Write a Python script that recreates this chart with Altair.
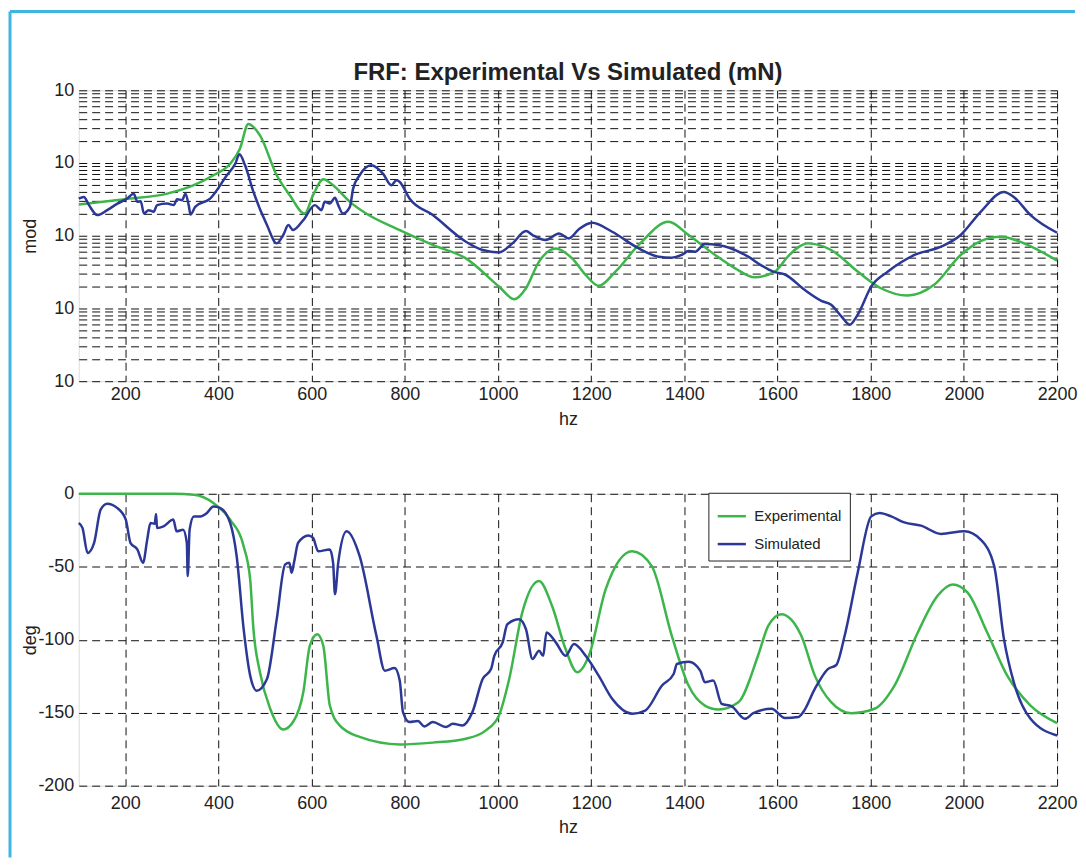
import altair as alt
import pandas as pd

# ---------- data ----------
series = ["Experimental", "Simulated"]
colors = ["#3cb54a", "#2b3896"]
chart_title = "FRF: Experimental Vs Simulated (mN)"

# magnitude (log10 of |FRF|)
exp_mag_hz = [100, 199, 290, 347, 389, 425, 446, 464, 489, 525, 553, 585, 603, 625, 646, 682, 717,
              789, 860, 931, 1002, 1035, 1060, 1088, 1124, 1159, 1188, 1216, 1252, 1302, 1366, 1409,
              1466, 1509, 1551, 1594, 1623, 1644, 1665, 1715, 1772, 1822, 1879, 1936, 1993, 2036,
              2079, 2129, 2200]
exp_mag_log = [-0.571, -0.497, -0.421, -0.305, -0.168, -0.010, 0.196, 0.538, 0.379, -0.168, -0.442,
               -0.695, -0.442, -0.223, -0.305, -0.534, -0.695, -0.922, -1.127, -1.311, -1.699, -1.873,
               -1.722, -1.356, -1.174, -1.311, -1.538, -1.689, -1.493, -1.127, -0.808, -0.990, -1.264,
               -1.448, -1.571, -1.493, -1.28, -1.16, -1.105, -1.196, -1.493, -1.722, -1.822, -1.675,
               -1.264, -1.073, -1.014, -1.105, -1.342]

sim_mag_hz = [100, 111, 122, 140, 161, 183, 204, 218, 226, 233, 240, 250, 261, 268, 290, 304, 311, 322,
              329, 336, 340, 350, 382, 418, 436, 445, 457, 475, 504, 525, 539, 550, 560, 582, 607, 621,
              628, 639, 650, 657, 667, 682, 689, 703, 728, 753, 771, 782, 789, 810, 860, 931, 967, 1002,
              1031, 1060, 1074, 1102, 1131, 1152, 1174, 1202, 1245, 1302, 1345, 1373, 1394, 1409, 1423,
              1444, 1473, 1537, 1566, 1591, 1616, 1658, 1694, 1715, 1737, 1755, 1772, 1801, 1837, 1894,
              1951, 1993, 2036, 2086, 2107, 2143, 2200]
sim_mag_log = [-0.489, -0.466, -0.579, -0.716, -0.648, -0.558, -0.489, -0.421, -0.534, -0.525, -0.695,
               -0.648, -0.671, -0.579, -0.558, -0.579, -0.497, -0.511, -0.421, -0.579, -0.708, -0.603,
               -0.489, -0.168, -0.010, 0.119, -0.032, -0.397, -0.853, -1.105, -0.990, -0.853, -0.922,
               -0.785, -0.579, -0.648, -0.534, -0.558, -0.479, -0.579, -0.695, -0.603, -0.352, -0.168,
               -0.032, -0.147, -0.305, -0.237, -0.260, -0.489, -0.716, -1.082, -1.196, -1.229, -1.105,
               -0.936, -0.990, -1.059, -0.968, -1.037, -0.908, -0.822, -0.945, -1.174, -1.288, -1.301,
               -1.264, -1.210, -1.219, -1.114, -1.127, -1.288, -1.411, -1.493, -1.533, -1.744, -1.895,
               -1.949, -2.110, -2.223, -2.086, -1.699, -1.493, -1.264, -1.151, -0.990, -0.671, -0.397,
               -0.466, -0.716, -0.959]

# phase (deg)
exp_ph_hz = [100, 200, 304, 347, 389, 425, 454, 468, 475, 489, 511, 539, 560, 582, 596, 612, 625, 639,
             660, 703, 789, 860, 931, 974, 1002, 1024, 1052, 1088, 1116, 1145, 1170, 1195, 1231, 1288,
             1330, 1373, 1409, 1444, 1473, 1516, 1558, 1580, 1608, 1651, 1680, 1715, 1758, 1808, 1851,
             1901, 1943, 1976, 2008, 2050, 2093, 2143, 2200]
exp_ph_deg = [0, 0, 0, -0.7, -6.3, -17.7, -36, -58.7, -92.8, -122.3, -147.3, -161.5, -156.4, -136,
              -104.2, -96.2, -104.2, -145.1, -158.7, -166.6, -171.7, -170.5, -167.8, -162.1, -151.9,
              -126.9, -81.4, -59.8, -76.9, -106.4, -122.3, -111, -65.5, -39.4, -49.6, -97.3, -131.4,
              -145.1, -147.8, -142.8, -111, -90.5, -82.5, -97.3, -124.6, -142.8, -150.3, -147.3, -131.4,
              -95, -70.1, -62.1, -67.7, -95, -124.6, -145.1, -157.1]

sim_ph_hz = [100, 108, 119, 133, 147, 161, 183, 201, 211, 226, 238, 247, 254, 263, 266, 268, 282, 303,
             310, 324, 332, 334, 338, 347, 361, 375, 389, 404, 425, 439, 454, 468, 482, 504, 525, 543,
             552, 557, 562, 571, 593, 603, 614, 639, 646, 650, 657, 675, 703, 739, 757, 778, 789, 796,
             810, 828, 842, 860, 888, 903, 924, 945, 967, 985, 992, 1010, 1020, 1045, 1060, 1074, 1088,
             1097, 1104, 1124, 1145, 1163, 1188, 1216, 1245, 1288, 1316, 1352, 1377, 1384, 1409, 1434,
             1444, 1462, 1480, 1501, 1530, 1548, 1587, 1616, 1644, 1655, 1680, 1708, 1726, 1744, 1772,
             1801, 1819, 1844, 1872, 1908, 1951, 2001, 2036, 2065, 2086, 2107, 2143, 2200]
sim_ph_deg = [-20, -23.4, -40.5, -33.6, -10.9, -6.8, -9.8, -17.7, -33.6, -38.2, -47.3, -31.4, -20,
              -20.5, -13.8, -23.4, -22.3, -17.7, -25.7, -24.6, -33.6, -56.4, -24.6, -15.5, -15.5, -13.2,
              -8.7, -9.8, -20, -42.8, -92.8, -124.6, -134.9, -126.9, -85.9, -48.4, -47.3, -54.1, -47.3,
              -33.6, -28.6, -30.2, -39.4, -38.2, -47.3, -68.9, -47.3, -25.7, -42.8, -97.3, -121.2,
              -119.4, -128, -149.6, -156.4, -155.7, -159.4, -156.4, -159.8, -157.6, -158.7, -149.6,
              -126.9, -120.1, -111, -101.8, -89.4, -85.9, -92.8, -113.2, -107.6, -111, -95, -101.8,
              -111, -103, -111, -124.6, -140.5, -150.7, -148.5, -131.4, -123.5, -116.6, -115.1, -121.2,
              -129.1, -128, -143.9, -145.5, -154.2, -150.3, -147.3, -153.7, -153, -149.6, -133.7,
              -120.1, -117.3, -97.3, -54.1, -15.5, -13.2, -15.5, -19.6, -21.8, -27.5, -25.7, -31.4,
              -49.6, -99.6, -129.1, -154.2, -165.6]

x_ticks = [200, 400, 600, 800, 1000, 1200, 1400, 1600, 1800, 2000, 2200]
y_mag_ticks = [m * 10.0 ** k for k in range(-3, 1) for m in range(1, 10)] + [10.0]
y_ph_ticks = [-200, -150, -100, -50, 0]

# ---------- tables ----------
mag = pd.concat([
    pd.DataFrame({"hz": exp_mag_hz, "mod": [10 ** v for v in exp_mag_log], "series": series[0]}),
    pd.DataFrame({"hz": sim_mag_hz, "mod": [10 ** v for v in sim_mag_log], "series": series[1]}),
])
ph = pd.concat([
    pd.DataFrame({"hz": exp_ph_hz, "deg": exp_ph_deg, "series": series[0]}),
    pd.DataFrame({"hz": sim_ph_hz, "deg": sim_ph_deg, "series": series[1]}),
])
one = pd.DataFrame({"title": [chart_title]})

FONT = "Liberation Sans, Arial, Helvetica, sans-serif"
W, H = 982, 292

axis_common = dict(
    grid=True, gridDash=[8, 5], gridColor="#111111", gridWidth=1, gridOpacity=1,
    ticks=False, domain=False, labelFont=FONT, labelFontSize=18, labelColor="#222222",
    titleFont=FONT, titleFontSize=18, titleFontWeight="normal", titleColor="#222222",
    labelExpr="datum.value + ''", labelFlush=False,
)

xaxis_top = alt.Axis(values=x_ticks, title="hz", labelPadding=4, titlePadding=7, **axis_common)
xaxis_bot = alt.Axis(values=x_ticks, title="hz", labelPadding=9, titlePadding=6, **axis_common)
xscale = alt.Scale(domain=[100, 2200], nice=False, zero=False)
cscale = alt.Scale(domain=series, range=colors)

mag_axis = dict(axis_common)
mag_axis["labelExpr"] = "abs(log(datum.value)/LN10 - round(log(datum.value)/LN10)) < 0.01 ? '10' : ''"

top_lines = alt.Chart(mag).mark_line(strokeWidth=2.5, interpolate="monotone").encode(
    x=alt.X("hz:Q", scale=xscale, axis=xaxis_top),
    y=alt.Y("mod:Q",
            scale=alt.Scale(type="log", domain=[0.001, 10], nice=False),
            axis=alt.Axis(values=y_mag_ticks, title="mod", labelOverlap=False, labelPadding=5,
                          titleX=-39, **mag_axis)),
    color=alt.Color("series:N", scale=cscale, legend=None),
    order=alt.Order("hz:Q"),
)

title_text = alt.Chart(one).mark_text(
    font=FONT, fontSize=24, fontWeight="bold", color="#222222", align="center", baseline="alphabetic"
).encode(text="title:N", x=alt.value(W / 2), y=alt.value(-10))

border_v = alt.Chart(one).mark_rule(color="#3fb5e2", strokeWidth=3).encode(
    x=alt.value(-69), y=alt.value(-79), y2=alt.value(770))
border_h = alt.Chart(one).mark_rule(color="#3fb5e2", strokeWidth=3).encode(
    x=alt.value(-69), x2=alt.value(1000), y=alt.value(-79))

top = alt.layer(top_lines, title_text, border_v, border_h).properties(width=W, height=H)

bottom = alt.Chart(ph).mark_line(strokeWidth=2.5, interpolate="monotone").encode(
    x=alt.X("hz:Q", scale=xscale, axis=xaxis_bot),
    y=alt.Y("deg:Q", scale=alt.Scale(domain=[-200, 0], nice=False),
            axis=alt.Axis(values=y_ph_ticks, title="deg", labelPadding=5, titleX=-39, **axis_common)),
    color=alt.Color("series:N", scale=cscale,
                    legend=alt.Legend(title=None, orient="none", legendX=632, legendY=-1,
                                      strokeColor="#222222", fillColor="white", padding=8,
                                      symbolType="stroke", symbolSize=800, symbolStrokeWidth=2.5,
                                      labelFont=FONT, labelFontSize=15, labelColor="#222222",
                                      rowPadding=4, labelOffset=7)),
    order=alt.Order("hz:Q"),
).properties(width=W, height=H + 1)

chart = alt.vconcat(top, bottom, spacing=113, bounds="flush").resolve_legend(
    color="independent"
).properties(padding=0).configure_view(
    stroke="#222222", strokeWidth=1
).configure(background="white")

chart.save("out.html", embed_options={"renderer": "svg", "actions": False})
